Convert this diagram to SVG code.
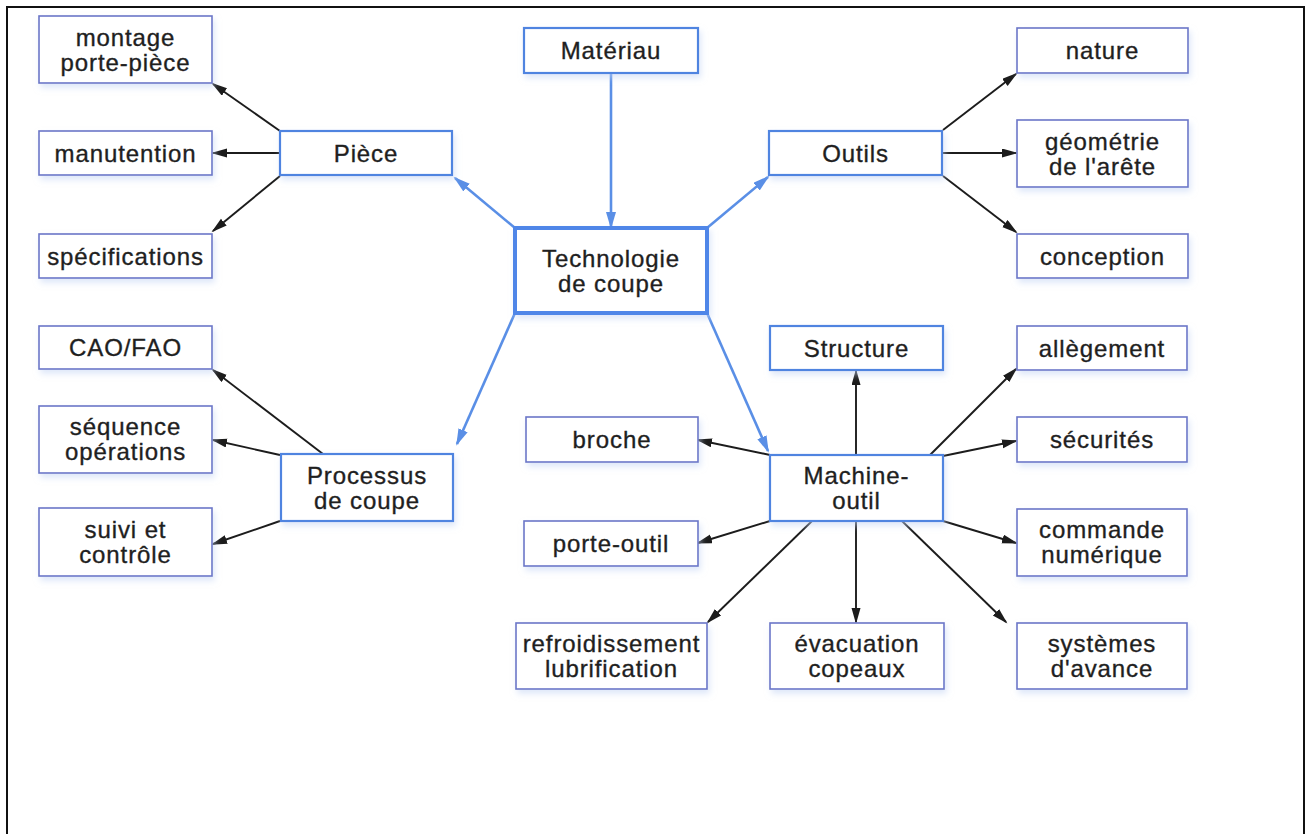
<svg xmlns="http://www.w3.org/2000/svg" width="1311" height="834" viewBox="0 0 1311 834">
<defs>
<style>
text{font-family:"Liberation Sans",Arial,sans-serif;font-size:24px;fill:#1f1f1f;stroke:#1f1f1f;stroke-width:0.35px;text-anchor:middle;letter-spacing:0.9px}
.leaf{fill:#fff;stroke:#6b76c8;stroke-width:1.6}
.main{fill:#fff;stroke:#4f84e0;stroke-width:2.2}
.center{fill:#fff;stroke:#4f86e8;stroke-width:4}
.blk{stroke:#1c1c1c;stroke-width:1.9;fill:none;marker-end:url(#ab)}
.blu{stroke:#5a8fe6;stroke-width:2.6;fill:none;marker-end:url(#au)}
</style>
<filter id="sh" x="-10%" y="-20%" width="120%" height="160%">
<feDropShadow dx="2" dy="4" stdDeviation="3" flood-color="#c3d4f4" flood-opacity="0.55"/>
</filter>
<marker id="ab" markerUnits="userSpaceOnUse" markerWidth="17" markerHeight="10" refX="14" refY="4.5" orient="auto">
<path d="M0,0 L16,4.5 L0,9 Z" fill="#1c1c1c"/>
</marker>
<marker id="au" markerUnits="userSpaceOnUse" markerWidth="18" markerHeight="12" refX="15" refY="5" orient="auto">
<path d="M0,0 L17,5 L0,10 Z" fill="#5a8fe6"/>
</marker>
</defs>
<rect width="1311" height="834" fill="#fff"/>
<path d="M7,834 V7 H1304 V834" fill="none" stroke="#111" stroke-width="2"/>

<g id="connectors">
<line class="blu" x1="611" y1="74" x2="611" y2="227"/>
<line class="blu" x1="515" y1="228" x2="455" y2="178"/>
<line class="blu" x1="707" y1="228" x2="768" y2="177"/>
<line class="blu" x1="515" y1="313" x2="457" y2="444"/>
<line class="blu" x1="707" y1="313" x2="768" y2="451"/>

<line class="blk" x1="280" y1="131" x2="213" y2="84"/>
<line class="blk" x1="280" y1="153" x2="213" y2="153"/>
<line class="blk" x1="280" y1="176" x2="213" y2="231"/>

<line class="blk" x1="943" y1="130" x2="1016" y2="74"/>
<line class="blk" x1="943" y1="153" x2="1016" y2="153"/>
<line class="blk" x1="943" y1="176" x2="1016" y2="232"/>

<line class="blk" x1="323" y1="454" x2="213" y2="370"/>
<line class="blk" x1="280" y1="455" x2="213" y2="440"/>
<line class="blk" x1="280" y1="521" x2="213" y2="544"/>

<line class="blk" x1="770" y1="455" x2="698" y2="440"/>
<line class="blk" x1="856" y1="455" x2="856" y2="371"/>
<line class="blk" x1="930" y1="455" x2="1016" y2="369"/>
<line class="blk" x1="943" y1="456" x2="1016" y2="441"/>
<line class="blk" x1="943" y1="521" x2="1016" y2="543"/>
<line class="blk" x1="902" y1="521" x2="1006" y2="622"/>
<line class="blk" x1="856" y1="521" x2="856" y2="622"/>
<line class="blk" x1="812" y1="521" x2="708" y2="622"/>
<line class="blk" x1="770" y1="521" x2="698" y2="543"/>
</g>

<g id="materiau"><rect class="main" x="524" y="28" width="174" height="45" filter="url(#sh)"/><text x="611" y="59">Matériau</text></g>
<g id="technologie"><rect class="center" x="515" y="228" width="192" height="85" filter="url(#sh)"/><text x="611" y="266.5">Technologie<tspan x="611" dy="25">de coupe</tspan></text></g>

<g id="piece"><rect class="main" x="280" y="131" width="172" height="44" filter="url(#sh)"/><text x="366" y="161.5">Pièce</text></g>
<g id="montage"><rect class="leaf" x="39" y="16" width="173" height="67" filter="url(#sh)"/><text x="125.5" y="45.5">montage<tspan x="125.5" dy="25">porte-pièce</tspan></text></g>
<g id="manutention"><rect class="leaf" x="39" y="131" width="173" height="44" filter="url(#sh)"/><text x="125.5" y="161.5">manutention</text></g>
<g id="specifications"><rect class="leaf" x="39" y="234" width="173" height="44" filter="url(#sh)"/><text x="125.5" y="264.5" letter-spacing="0.6">spécifications</text></g>

<g id="outils"><rect class="main" x="769" y="131" width="173" height="44" filter="url(#sh)"/><text x="855.5" y="161.5">Outils</text></g>
<g id="nature"><rect class="leaf" x="1017" y="28" width="171" height="45" filter="url(#sh)"/><text x="1102.5" y="59">nature</text></g>
<g id="geometrie"><rect class="leaf" x="1017" y="120" width="171" height="67" filter="url(#sh)"/><text x="1102.5" y="149.5">géométrie<tspan x="1102.5" dy="25">de l'arête</tspan></text></g>
<g id="conception"><rect class="leaf" x="1017" y="234" width="171" height="44" filter="url(#sh)"/><text x="1102.5" y="264.5">conception</text></g>

<g id="processus"><rect class="main" x="281" y="454" width="172" height="67" filter="url(#sh)"/><text x="367" y="483.5">Processus<tspan x="367" dy="25">de coupe</tspan></text></g>
<g id="caofao"><rect class="leaf" x="39" y="326" width="173" height="43" filter="url(#sh)"/><text x="125.5" y="356" letter-spacing="0.3">CAO/FAO</text></g>
<g id="sequence"><rect class="leaf" x="39" y="406" width="173" height="67" filter="url(#sh)"/><text x="125.5" y="435">séquence<tspan x="125.5" dy="25">opérations</tspan></text></g>
<g id="suivi"><rect class="leaf" x="39" y="508" width="173" height="68" filter="url(#sh)"/><text x="125.5" y="538">suivi et<tspan x="125.5" dy="25">contrôle</tspan></text></g>

<g id="machine"><rect class="main" x="770" y="455" width="173" height="66" filter="url(#sh)"/><text x="856.5" y="484">Machine-<tspan x="856.5" dy="25">outil</tspan></text></g>
<g id="structure"><rect class="main" x="770" y="326" width="173" height="44" filter="url(#sh)"/><text x="856.5" y="356.5">Structure</text></g>
<g id="broche"><rect class="leaf" x="526" y="417" width="172" height="45" filter="url(#sh)"/><text x="612" y="448">broche</text></g>
<g id="porteoutil"><rect class="leaf" x="524" y="521" width="174" height="45" filter="url(#sh)"/><text x="611" y="552">porte-outil</text></g>
<g id="refroidissement"><rect class="leaf" x="516" y="623" width="191" height="66" filter="url(#sh)"/><text x="611.5" y="652" letter-spacing="0.3">refroidissement<tspan x="611.5" dy="25">lubrification</tspan></text></g>
<g id="evacuation"><rect class="leaf" x="770" y="623" width="174" height="66" filter="url(#sh)"/><text x="857" y="652">évacuation<tspan x="857" dy="25">copeaux</tspan></text></g>
<g id="allegement"><rect class="leaf" x="1017" y="326" width="170" height="44" filter="url(#sh)"/><text x="1102" y="356.5">allègement</text></g>
<g id="securites"><rect class="leaf" x="1017" y="417" width="170" height="45" filter="url(#sh)"/><text x="1102" y="448">sécurités</text></g>
<g id="commande"><rect class="leaf" x="1017" y="509" width="170" height="67" filter="url(#sh)"/><text x="1102" y="538">commande<tspan x="1102" dy="25">numérique</tspan></text></g>
<g id="systemes"><rect class="leaf" x="1017" y="623" width="170" height="66" filter="url(#sh)"/><text x="1102" y="652">systèmes<tspan x="1102" dy="25">d'avance</tspan></text></g>
</svg>
